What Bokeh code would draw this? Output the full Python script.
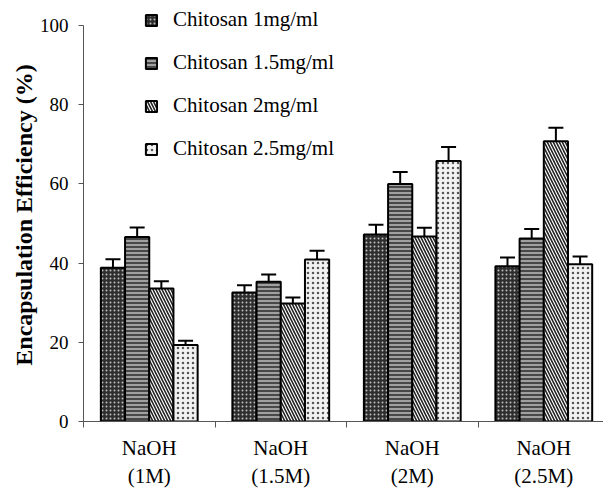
from bokeh.plotting import figure
from bokeh.models import (ColumnDataSource, Range1d, FixedTicker, Whisker, TeeHead,
                          Legend, LegendItem)
from bokeh.embed import file_html
from bokeh.resources import INLINE
import numpy as np

groups = ["NaOH\n(1M)", "NaOH\n(1.5M)", "NaOH\n(2M)", "NaOH\n(2.5M)"]
series = ["Chitosan 1mg/ml", "Chitosan 1.5mg/ml", "Chitosan 2mg/ml", "Chitosan 2.5mg/ml"]
c1 = [38.8, 32.6, 47.2, 39.2]
c2 = [46.6, 35.3, 60.0, 46.2]
c3 = [33.6, 29.8, 46.7, 70.8]
c4 = [19.3, 40.9, 65.8, 39.7]
e1 = [2.2, 1.8, 2.5, 2.2]
e2 = [2.4, 1.8, 3.0, 2.4]
e3 = [1.8, 1.5, 2.2, 3.4]
e4 = [1.1, 2.2, 3.5, 2.0]
y_ticks = [0, 20, 40, 60, 80, 100]
y_title = "Encapsulation Efficiency (%)"

values = [c1, c2, c3, c4]
errors = [e1, e2, e3, e4]

styles = [
    dict(fill_color="#2e2e2e", hatch_pattern="dot", hatch_color="#bdbdbd", hatch_scale=4, hatch_weight=1),
    dict(fill_color="#a0a0a0", hatch_pattern="horizontal_line", hatch_color="#222222", hatch_scale=4, hatch_weight=1.4),
    dict(fill_color="#ffffff", hatch_pattern="left_diagonal_line", hatch_color="#222222", hatch_scale=6, hatch_weight=1.6),
    dict(fill_color="#f2f2f2", hatch_pattern="dot", hatch_color="#555555", hatch_scale=5, hatch_weight=1),
]

FONT = "Liberation Serif"
n_groups = len(groups)
bar_w = 0.184
centers = np.arange(n_groups) + 0.5

p = figure(width=603, height=491, output_backend="svg", toolbar_location=None,
           x_range=Range1d(0, 3.954), y_range=Range1d(0, 104.3),
           min_border_left=83, min_border_top=8, min_border_right=0, min_border_bottom=67)
p.outline_line_color = None
p.xgrid.visible = False
p.ygrid.visible = False
p.background_fill_color = "white"

items = []
for i, (vals, errs, st) in enumerate(zip(values, errors, styles)):
    off = (i - 1.5) * bar_w
    v = np.array(vals)
    e = np.array(errs)
    src = ColumnDataSource(dict(x=centers + off, top=v, upper=v + e, lower=v - e))
    r = p.vbar(x="x", top="top", width=bar_w, source=src, line_color="black", line_width=2, **st)
    items.append(LegendItem(label=series[i], renderers=[r]))
    w = Whisker(source=src, base="x", upper="upper", lower="lower", dimension="height",
                line_color="black", line_width=2,
                upper_head=TeeHead(size=15, line_width=2, line_color="black"),
                lower_head=TeeHead(size=15, line_width=2, line_color="black"))
    p.add_layout(w)

# x axis: boundary ticks as minor ticks, group labels at centres
xa = p.xaxis[0]
xa.ticker = FixedTicker(ticks=list(centers), minor_ticks=list(range(n_groups + 1)))
xa.major_label_overrides = {float(c): g for c, g in zip(centers, groups)}
xa.major_tick_line_color = None
xa.minor_tick_line_color = "#555555"
xa.minor_tick_out = 6
xa.minor_tick_in = 0
xa.axis_line_color = "#555555"
xa.major_label_text_font = FONT
xa.major_label_text_font_size = "21px"
xa.major_label_text_color = "black"
xa.major_label_standoff = 8

ya = p.yaxis[0]
ya.ticker = FixedTicker(ticks=y_ticks, minor_ticks=[])
ya.bounds = (0, 100)
ya.major_tick_out = 5
ya.major_tick_in = 0
ya.major_tick_line_color = "#555555"
ya.axis_line_color = "#555555"
ya.major_label_text_font = FONT
ya.major_label_text_font_size = "19px"
ya.major_label_text_color = "black"
ya.major_label_standoff = 10
ya.axis_label = y_title
ya.axis_label_text_font = FONT
ya.axis_label_text_font_style = "bold"
ya.axis_label_text_font_size = "24px"
ya.axis_label_text_color = "black"
ya.axis_label_standoff = 0

legend = Legend(items=items, location=(61, 260), orientation="vertical",
                glyph_width=14, glyph_height=14, label_height=24, spacing=18,
                label_standoff=15, padding=0, margin=0,
                border_line_color=None, background_fill_alpha=0,
                label_text_font=FONT, label_text_font_size="21px", label_text_color="black")
p.add_layout(legend)

open("out.html", "w").write(file_html(p, INLINE))
